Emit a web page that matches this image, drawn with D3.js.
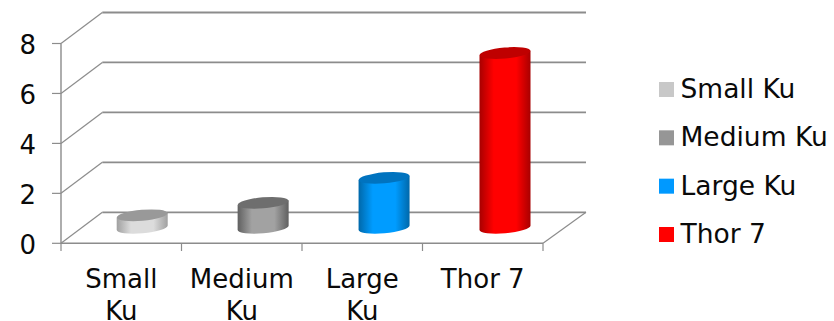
<!DOCTYPE html>
<html>
<head>
<meta charset="utf-8">
<script src="https://cdn.jsdelivr.net/npm/d3@7/dist/d3.min.js"></script>
<style>
html,body{margin:0;padding:0;background:#fff}
text{font-family:"DejaVu Sans",sans-serif;fill:#0a0a0a}
</style>
</head>
<body>
<svg id="chart" width="834" height="321"></svg>
<script>
// Column values and labels
const categories = [["Small","Ku"],["Medium","Ku"],["Large","Ku"],["Thor 7"]];
const seriesNames = ["Small Ku","Medium Ku","Large Ku","Thor 7"];
const seriesValues = [0.5,1,2,7];
const yTicks = [0,2,4,6,8];
const seriesColors = ["#c8c8c8","#969696","#0099ff","#ff0000"];
const sideEdge = ["#a0a0a0","#606060","#0068aa","#a80000"];
const sideMid = ["#dcdcdc","#a2a2a2","#009cff","#ff0000"];
const topFace = ["#999999","#6e6e6e","#0073bf","#bf0000"];

const svg = d3.select("#chart");
const y = d3.scaleLinear().domain([0,8]).range([243.3,43.5]);
const x = d3.scaleBand().domain(d3.range(categories.length)).range([61,543]);
// Columns stand on the floor's mid line, which is slightly wider than the front edge
const barX = d3.scalePoint().domain(d3.range(categories.length)).range([142.2,505]);
const depth = {left:41.3, right:43, dy:-31};
const axisGrey = "#8c8c8c";
const [x0,x1] = x.range();

// Floor outline, back-wall gridlines and their receding side-wall segments
const grid = svg.append("g").attr("fill","none").attr("stroke",axisGrey);
yTicks.forEach(t => {
  grid.append("path").attr("stroke-width",1.2)
    .attr("d",`M${x0},${y(t)}L${x0+depth.left},${y(t)+depth.dy}`);
  grid.append("path").attr("stroke-width",1.8)
    .attr("d",`M${x0+depth.left},${y(t)+depth.dy}L${x1+depth.right},${y(t)+depth.dy}`);
  grid.append("path").attr("stroke-width",1.2)
    .attr("d",`M52,${y(t)}H${x0}`);
});
grid.append("path").attr("stroke-width",1.2)
  .attr("d",`M${x1},${y(0)}L${x1+depth.right},${y(0)+depth.dy}`);
grid.append("path").attr("stroke-width",1.4)
  .attr("d",`M${x0},${y(8)}V${y(0)}H${x1}`);
d3.range(categories.length+1).forEach(i => {
  const px = x0+i*x.step();
  grid.append("path").attr("stroke-width",1.2).attr("d",`M${px},${y(0)}V251`);
});

// Horizontal shading for each cylinder
const defs = svg.append("defs");
seriesValues.forEach((v,i) => {
  const g = defs.append("linearGradient").attr("id","side"+i);
  [[0,sideEdge[i]],[0.28,sideMid[i]],[0.72,sideMid[i]],[1,sideEdge[i]]]
    .forEach(([o,c]) => g.append("stop").attr("offset",o).attr("stop-color",c));
});

// Cylinder bodies and top caps
const rx = 25.5, ry = 5.5, tilt = -5;
const baseY = y(0)+depth.dy/2;
const cyl = svg.append("g").selectAll("g").data(seriesValues).join("g")
  .attr("transform",(d,i)=>`translate(${barX(i)},${baseY})`);
cyl.append("path").attr("fill",(d,i)=>`url(#side${i})`)
  .attr("d",d=>{
    const h = y(0)-y(d);
    const dy = rx*Math.sin(tilt*Math.PI/180);
    return `M${-rx},${-h-dy}L${rx},${-h+dy}L${rx},${dy}A${rx},${ry} ${tilt} 0 1 ${-rx},${-dy}Z`;
  });
cyl.append("ellipse").attr("rx",rx).attr("ry",ry).attr("fill",(d,i)=>topFace[i])
  .attr("transform",d=>`translate(0,${y(d)-y(0)}) rotate(${tilt})`);

// Value axis labels
svg.append("g").selectAll("text").data(yTicks).join("text")
  .attr("x",36).attr("y",d=>y(d)+10.5).attr("text-anchor","end")
  .style("font-size","26px").text(d=>d);

// Category labels, one line per word group
const catLabels = svg.append("g").selectAll("text").data(categories).join("text")
  .attr("text-anchor","middle").style("font-size","26px");
catLabels.selectAll("tspan").data((d,i)=>d.map(s=>({s,i}))).join("tspan")
  .attr("x",d=>x(d.i)+x.bandwidth()/2)
  .attr("y",(d,j)=>288+j*31.5)
  .text(d=>d.s);

// Legend
const legendY = d3.scalePoint().domain(seriesNames).range([89.5,234.5]);
const legend = svg.append("g").selectAll("g").data(seriesNames).join("g")
  .attr("transform",d=>`translate(659,${legendY(d)})`);
legend.append("rect").attr("y",-7.5).attr("width",15).attr("height",15)
  .attr("fill",(d,i)=>seriesColors[i]);
legend.append("text").attr("x",21.5).attr("y",8.5).style("font-size","26.5px").text(d=>d);
</script>
</body>
</html>
